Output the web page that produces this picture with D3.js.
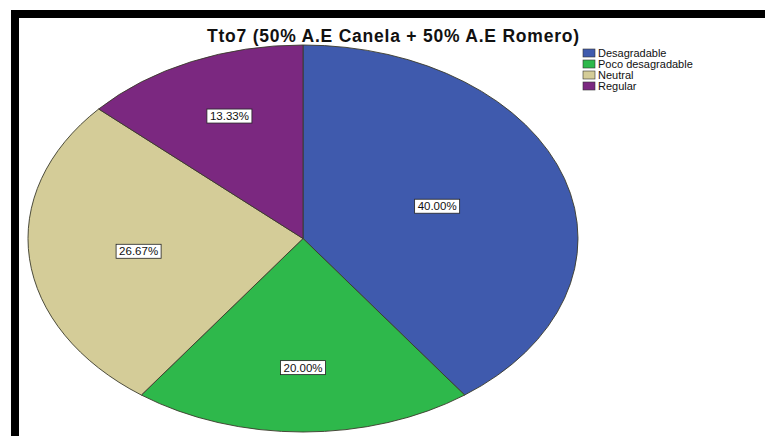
<!DOCTYPE html>
<html>
<head>
<meta charset="utf-8">
<script src="https://cdn.jsdelivr.net/npm/d3@7"></script>
<style>
  html, body { margin: 0; padding: 0; background: #fff; }
  svg { display: block; }
</style>
</head>
<body>
<svg id="chart" width="765" height="436"></svg>
<script>
// Pie of response categories for treatment Tto7
const chartTitle = "Tto7 (50% A.E Canela + 50% A.E Romero)";
const categories = ["Desagradable", "Poco desagradable", "Neutral", "Regular"];
const percentages = [40.00, 20.00, 26.67, 13.33];
const colors = ["#3f5aad", "#2eb84b", "#d4cc98", "#7b2880"];

const svg = d3.select("#chart");
const W = 765, H = 436;

// frame: black band along the top and left
svg.append("rect").attr("x", 0).attr("y", 0).attr("width", W).attr("height", H).attr("fill", "#fff");
svg.append("rect").attr("x", 11).attr("y", 10).attr("width", W - 11).attr("height", 8).attr("fill", "#000");
svg.append("rect").attr("x", 11).attr("y", 10).attr("width", 8).attr("height", H - 10).attr("fill", "#000");

// title
svg.append("text")
  .attr("x", 393).attr("y", 42)
  .attr("text-anchor", "middle")
  .attr("font-family", "Arial, 'Liberation Sans', sans-serif")
  .attr("font-size", 17.5)
  .attr("font-weight", "bold")
  .attr("fill", "#111")
  .attr("textLength", 372)
  .attr("lengthAdjust", "spacing")
  .text(chartTitle);

// elliptical pie: drawn as a circle of radius rx, squashed vertically
const cx = 303, cy = 238.5, rx = 275, ry = 193.5;
const data = categories.map((c, i) => ({ name: c, value: percentages[i], color: colors[i] }));
const pie = d3.pie().value(d => d.value).sort(null).startAngle(0).endAngle(2 * Math.PI);
const arcs = pie(data);
const arc = d3.arc().innerRadius(0).outerRadius(rx);

const g = svg.append("g").attr("transform", `translate(${cx},${cy}) scale(1,${ry / rx})`);
g.selectAll("path.slice")
  .data(arcs)
  .enter().append("path")
  .attr("class", "slice")
  .attr("d", arc)
  .attr("fill", d => d.data.color)
  .attr("stroke", "#3a3a2a")
  .attr("stroke-width", 0.9)
  .attr("vector-effect", "non-scaling-stroke");

// percentage labels near each slice's area centroid
const fmt = v => v.toFixed(2) + "%";
const labels = svg.append("g");
arcs.forEach(a => {
  const theta = a.endAngle - a.startAngle;
  const mid = (a.startAngle + a.endAngle) / 2;
  const k = 1.07 * 4 * Math.sin(theta / 2) / (3 * theta);
  const x = cx + 0.95 * rx * k * Math.sin(mid);
  const y = cy - ry * k * Math.cos(mid);
  const lg = labels.append("g").attr("transform", `translate(${x},${y})`);
  const t = lg.append("text")
    .attr("text-anchor", "middle")
    .attr("dy", "0.36em")
    .attr("font-family", "Arial, 'Liberation Sans', sans-serif")
    .attr("font-size", 11.5)
    .attr("fill", "#111")
    .text(fmt(a.data.value));
  const bb = t.node().getBBox();
  lg.insert("rect", "text")
    .attr("x", bb.x - 3).attr("y", -7)
    .attr("width", bb.width + 6).attr("height", 14)
    .attr("fill", "#fff")
    .attr("stroke", "#222")
    .attr("stroke-width", 0.8);
});

// legend
const legend = svg.append("g").attr("transform", "translate(583,49)");
const rows = legend.selectAll("g").data(data).enter().append("g")
  .attr("transform", (d, i) => `translate(0,${i * 11})`);
rows.append("rect")
  .attr("width", 12).attr("height", 8)
  .attr("fill", d => d.color)
  .attr("stroke", "#333").attr("stroke-width", 0.6);
rows.append("text")
  .attr("x", 15).attr("y", 8)
  .attr("font-family", "Arial, 'Liberation Sans', sans-serif")
  .attr("font-size", 11)
  .attr("fill", "#111")
  .text(d => d.name);
</script>
</body>
</html>
